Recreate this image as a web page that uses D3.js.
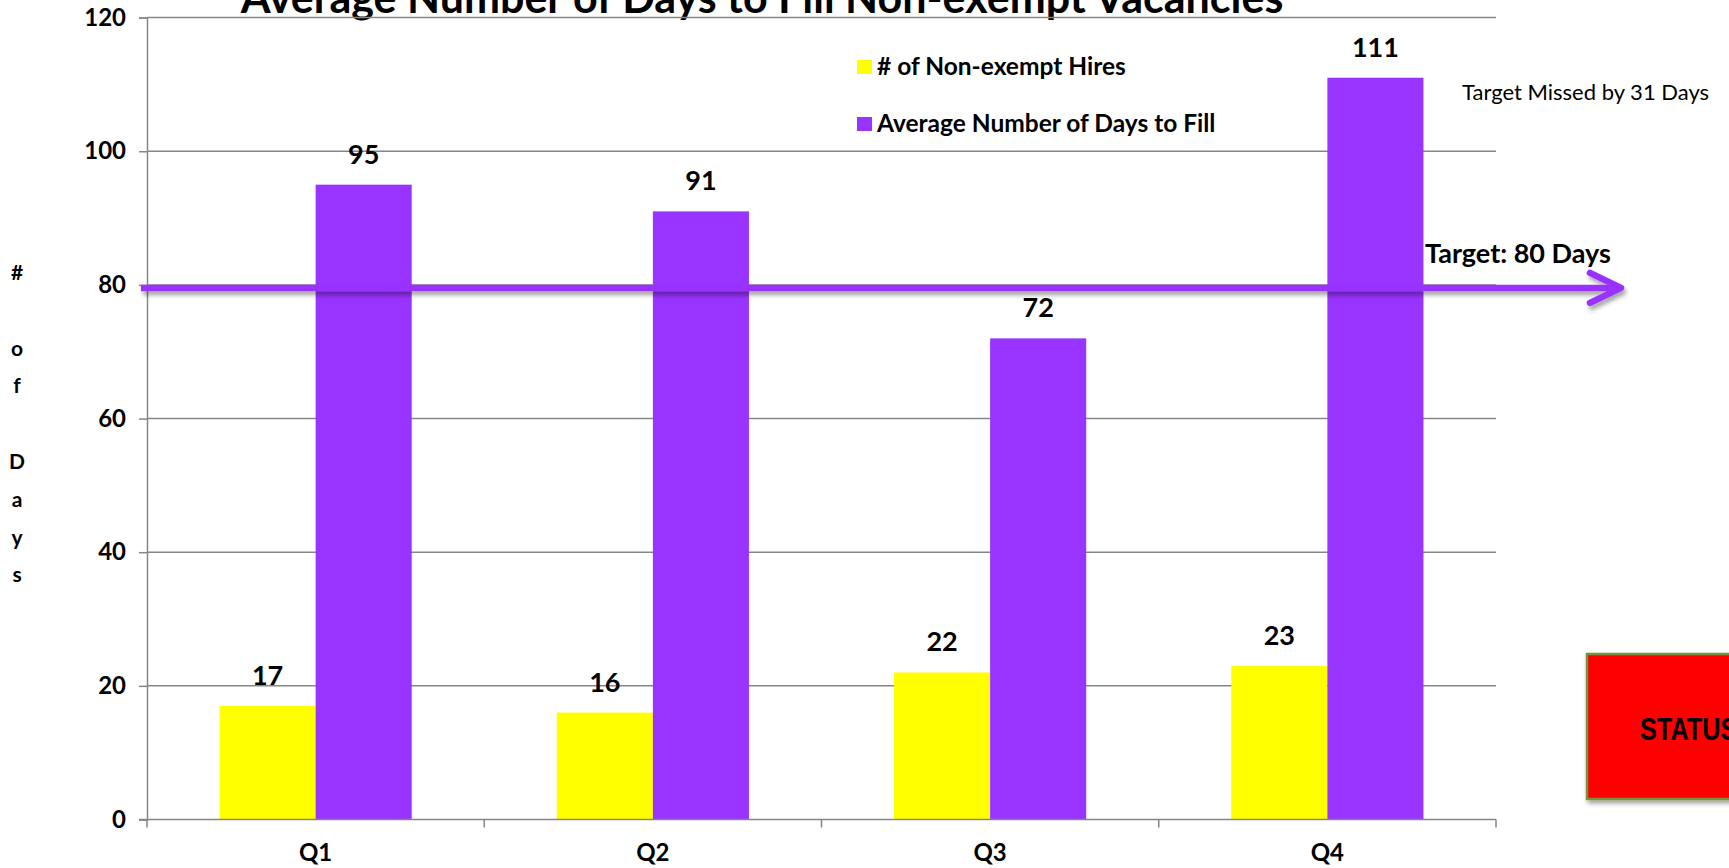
<!DOCTYPE html>
<html>
<head>
<meta charset="utf-8">
<script src="https://cdn.jsdelivr.net/npm/d3@7"></script>
<style>
  html, body { margin: 0; padding: 0; background: #fff; overflow: hidden; }
  svg { display: block; font-family: Lato, "Open Sans", sans-serif; }
</style>
</head>
<body>
<svg id="chart"></svg>
<script>
// chart data
var quarters = ["Q1", "Q2", "Q3", "Q4"];
var hires = [17, 16, 22, 23];
var daysToFill = [95, 91, 72, 111];
var seriesNames = ["# of Non-exempt Hires", "Average Number of Days to Fill"];
var seriesColors = ["#FFFF00", "#9933FF"];
var yTicks = [0, 20, 40, 60, 80, 100, 120];
var target = 80;
var yTitleLines = ["#", "", "o", "f", "", "D", "a", "y", "s"];

var width = 1729, height = 868;
var margin = { left: 147, right: 233, top: 17.6, bottom: 48.5 };

var svg = d3.select("#chart").attr("width", width).attr("height", height);

var defs = svg.append("defs");
var shadow = defs.append("filter").attr("id", "shadow")
  .attr("x", "-10%").attr("y", "-50%").attr("width", "120%").attr("height", "300%");
shadow.append("feDropShadow").attr("dx", 2).attr("dy", 4)
  .attr("stdDeviation", 2).attr("flood-color", "#000").attr("flood-opacity", 0.35);
var boxShadow = defs.append("filter").attr("id", "boxshadow")
  .attr("x", "-10%").attr("y", "-10%").attr("width", "130%").attr("height", "130%");
boxShadow.append("feDropShadow").attr("dx", 2).attr("dy", 3)
  .attr("stdDeviation", 2.5).attr("flood-color", "#000").attr("flood-opacity", 0.4);

var x0 = d3.scaleBand().domain(quarters)
  .range([margin.left, width - margin.right]).padding(0);
var x1 = d3.scaleBand().domain(seriesNames)
  .range([0, x0.bandwidth()]).paddingInner(0).paddingOuter(0.755);
var y = d3.scaleLinear().domain([0, 120])
  .range([height - margin.bottom, margin.top]);

var rows = quarters.map(function (q, i) {
  return { q: q, values: [hires[i], daysToFill[i]] };
});

// title (cut off at the top)
svg.append("text")
  .attr("x", 762).attr("y", 12.5)
  .attr("text-anchor", "middle")
  .style("font-size", "43px").style("font-weight", "bold")
  .text("Average Number of Days to Fill Non-exempt Vacancies");

// gridlines
svg.append("g").selectAll("line")
  .data(yTicks.slice(1))
  .enter().append("line")
  .attr("x1", margin.left).attr("x2", width - margin.right)
  .attr("y1", function (d) { return y(d); })
  .attr("y2", function (d) { return y(d); })
  .attr("stroke", "#868686").attr("stroke-width", 1.5);

// y axis
var yAxis = svg.append("g")
  .attr("transform", "translate(" + margin.left + ",0)")
  .call(d3.axisLeft(y).tickValues(yTicks).tickSize(8).tickPadding(13));
yAxis.select(".domain").attr("stroke", "#868686").attr("stroke-width", 1.5);
yAxis.selectAll(".tick line").attr("stroke", "#868686").attr("stroke-width", 1.5);
yAxis.selectAll(".tick text")
  .attr("fill", "#000")
  .style("font-size", "24px").style("font-weight", "bold")
  .style("font-family", "Lato, sans-serif");

// y title, one letter per line
svg.append("g").selectAll("text")
  .data(yTitleLines)
  .enter().append("text")
  .attr("x", 17)
  .attr("y", function (d, i) { return 280 + i * 37.8; })
  .attr("text-anchor", "middle")
  .style("font-size", "21px").style("font-weight", "bold")
  .text(function (d) { return d; });

// bars
var groups = svg.append("g").selectAll("g")
  .data(rows)
  .enter().append("g")
  .attr("transform", function (d) { return "translate(" + x0(d.q) + ",0)"; });

groups.selectAll("rect")
  .data(function (d) { return d.values; })
  .enter().append("rect")
  .attr("x", function (d, i) { return x1(seriesNames[i]); })
  .attr("width", x1.bandwidth())
  .attr("y", function (d) { return y(d); })
  .attr("height", function (d) { return y(0) - y(d); })
  .attr("fill", function (d, i) { return seriesColors[i]; });

groups.selectAll("text")
  .data(function (d) { return d.values; })
  .enter().append("text")
  .attr("x", function (d, i) { return x1(seriesNames[i]) + x1.bandwidth() / 2; })
  .attr("y", function (d) { return y(d) - 21; })
  .attr("text-anchor", "middle")
  .style("font-size", "27px").style("font-weight", "bold")
  .text(function (d) { return d; });

// x axis with ticks between categories
var xAxis = svg.append("g");
xAxis.append("line")
  .attr("x1", margin.left - 8).attr("x2", width - margin.right)
  .attr("y1", y(0)).attr("y2", y(0))
  .attr("stroke", "#868686").attr("stroke-width", 1.5);
var bounds = quarters.map(function (q) { return x0(q); }).concat([x0.range()[1]]);
xAxis.selectAll("line.tick")
  .data(bounds)
  .enter().append("line")
  .attr("class", "tick")
  .attr("x1", function (d) { return d; }).attr("x2", function (d) { return d; })
  .attr("y1", y(0)).attr("y2", y(0) + 8)
  .attr("stroke", "#868686").attr("stroke-width", 1.5);
xAxis.selectAll("text")
  .data(quarters)
  .enter().append("text")
  .attr("x", function (d) { return x0(d) + x0.bandwidth() / 2; })
  .attr("y", 861)
  .attr("text-anchor", "middle")
  .style("font-size", "24px").style("font-weight", "bold")
  .text(function (d) { return d; });

// legend
var legend = svg.append("g").selectAll("g")
  .data(seriesNames)
  .enter().append("g")
  .attr("transform", function (d, i) { return "translate(857," + (60 + i * 57) + ")"; });
legend.append("rect")
  .attr("width", 15).attr("height", 14)
  .attr("fill", function (d, i) { return seriesColors[i]; });
legend.append("text")
  .attr("x", 20).attr("y", 15)
  .style("font-size", "24.5px").style("font-weight", "bold")
  .text(function (d) { return d; });

// target arrow
var ty = y(target) + 3;
var arrowEnd = width - margin.right + 125;
var arrow = svg.append("g").attr("filter", "url(#shadow)");
arrow.append("line")
  .attr("x1", margin.left - 6).attr("x2", arrowEnd - 2)
  .attr("y1", ty).attr("y2", ty)
  .attr("stroke", "#9933FF").attr("stroke-width", 6.5);
arrow.append("path")
  .attr("d", d3.line()([[arrowEnd - 31, ty - 15], [arrowEnd, ty], [arrowEnd - 31, ty + 15]]))
  .attr("fill", "none").attr("stroke", "#9933FF").attr("stroke-width", 6.5)
  .attr("stroke-linecap", "round").attr("stroke-linejoin", "round");

svg.append("text")
  .attr("x", 1425).attr("y", ty - 25)
  .style("font-size", "27px").style("font-weight", "bold")
  .text("Target: " + target + " Days");

svg.append("text")
  .attr("x", 1462).attr("y", 100)
  .style("font-size", "22px")
  .text("Target Missed by " + (daysToFill[3] - target) + " Days");

// status box, runs off the right edge
svg.append("rect")
  .attr("x", 1587).attr("y", 654)
  .attr("width", 300).attr("height", 145)
  .attr("fill", "#FF0000").attr("stroke", "#77933C").attr("stroke-width", 2.5)
  .attr("filter", "url(#boxshadow)");
svg.append("text")
  .attr("transform", "translate(1640,740) scale(0.79,1)")
  .style("font-family", "'Liberation Sans', Arial, sans-serif")
  .style("font-size", "32px").style("font-weight", "bold")
  .text("STATUS");
</script>
</body>
</html>
